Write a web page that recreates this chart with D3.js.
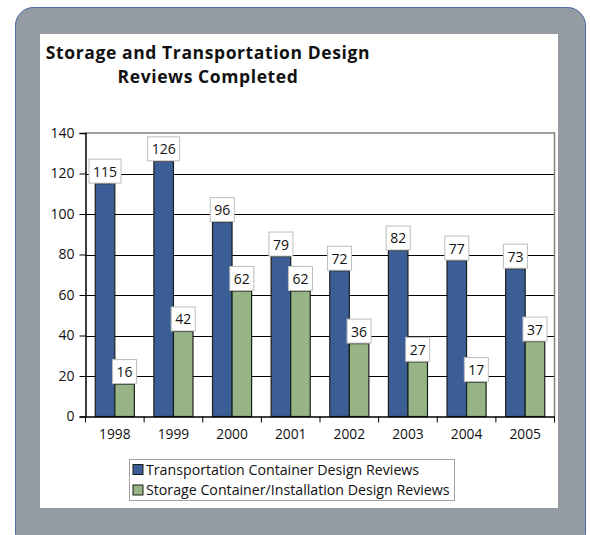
<!DOCTYPE html>
<html>
<head>
<meta charset="utf-8">
<script src="https://cdn.jsdelivr.net/npm/d3@7"></script>
<style>
  body { margin: 0; background: #fff; }
  text { font-family: "Open Sans", "Noto Sans", sans-serif; fill: #111; }
</style>
</head>
<body>
<div id="chart"></div>
<script>
// data
const years = ['1998', '1999', '2000', '2001', '2002', '2003', '2004', '2005'];
const transportation = [115, 126, 96, 79, 72, 82, 77, 73];
const storage = [16, 42, 62, 62, 36, 27, 17, 37];
const series_names = ['Transportation Container Design Reviews', 'Storage Container/Installation Design Reviews'];
const series_colors = ['#3b5e96', '#97b487'];
const y_ticks = [0, 20, 40, 60, 80, 100, 120, 140];
const title_lines = ['Storage and Transportation Design', 'Reviews Completed'];

const width = 590, height = 535;
const plot = {left: 85.5, right: 554.5, top: 133, bottom: 416.5};

const svg = d3.select('#chart')
  .append('svg')
    .attr('width', width)
    .attr('height', height);

// outer panel + white card
svg.append('rect')
  .attr('x', 15.5).attr('y', 7.5)
  .attr('width', 570).attr('height', 545)
  .attr('rx', 18).attr('ry', 18)
  .attr('fill', '#959ba2')
  .attr('stroke', '#4a6ca3')
  .attr('stroke-width', 1);

svg.append('rect')
  .attr('x', 40).attr('y', 34)
  .attr('width', 518).attr('height', 474)
  .attr('fill', '#fff');

// title, two separate lines
svg.selectAll('text.title')
  .data(title_lines)
  .join('text')
    .attr('class', 'title')
    .attr('text-anchor', 'middle')
    .attr('x', 208)
    .attr('y', (d, i) => 59 + i * 23.5)
    .style('font-weight', 'bold')
    .style('font-size', '17.5px')
    .style('letter-spacing', '0.6px')
    .text(d => d);

const y = d3.scaleLinear()
  .domain([0, 140])
  .range([plot.bottom, plot.top]);

const x0 = d3.scaleBand()
  .domain(years)
  .range([plot.left, plot.right])
  .padding(0);

const x1 = d3.scaleBand()
  .domain([0, 1])
  .range([x0.bandwidth() / 6, x0.bandwidth() * 5 / 6])
  .padding(0);

const g = svg.append('g');

// gridlines
g.selectAll('line.grid')
  .data(y_ticks.filter(d => d > 0 && d < 140))
  .join('line')
    .attr('class', 'grid')
    .attr('x1', plot.left).attr('x2', plot.right)
    .attr('y1', d => Math.round(y(d)) + 0.5).attr('y2', d => Math.round(y(d)) + 0.5)
    .attr('stroke', '#000')
    .attr('stroke-width', 1);

// plot frame (top + right in gray)
g.append('path')
  .attr('d', `M${plot.left},${plot.top}H${plot.right}V${plot.bottom}`)
  .attr('fill', 'none')
  .attr('stroke', '#808080')
  .attr('stroke-width', 1.5);

// bars
const rows = years.map((yr, i) => ({year: yr, values: [transportation[i], storage[i]]}));

const groups = g.selectAll('g.year')
  .data(rows)
  .join('g')
    .attr('class', 'year')
    .attr('transform', d => `translate(${x0(d.year)},0)`);

groups.selectAll('rect')
  .data(d => d.values.map((v, k) => ({k, v})))
  .join('rect')
    .attr('x', d => x1(d.k))
    .attr('y', d => y(d.v))
    .attr('width', x1.bandwidth())
    .attr('height', d => y(0) - y(d.v))
    .attr('fill', d => series_colors[d.k])
    .attr('stroke', '#1b1f1a')
    .attr('stroke-width', 1.2);

// value labels
const labels = groups.selectAll('g.lab')
  .data(d => d.values.map((v, k) => ({k, v})))
  .join('g')
    .attr('class', 'lab')
    .attr('transform', d => `translate(${x1(d.k) + x1.bandwidth() / 2},${y(d.v)})`);

labels.append('text')
  .attr('text-anchor', 'middle')
  .attr('y', -7)
  .style('font-size', '14px')
  .text(d => d.v);

labels.each(function() {
  const t = d3.select(this).select('text');
  const w = t.node().getComputedTextLength();
  d3.select(this).insert('rect', 'text')
    .attr('x', -w / 2 - 4)
    .attr('y', -24.5)
    .attr('width', w + 8)
    .attr('height', 24)
    .attr('fill', '#fff')
    .attr('stroke', '#bdbdbd')
    .attr('stroke-width', 1);
});

// axes
const yAxis = g.append('g')
  .attr('transform', `translate(${plot.left},0)`)
  .call(d3.axisLeft(y).tickValues(y_ticks).tickSize(6).tickPadding(5));
yAxis.select('.domain').attr('stroke', '#000').attr('stroke-width', 1.5);
yAxis.selectAll('.tick line').attr('stroke', '#000');
yAxis.selectAll('.tick text').style('font-size', '14px').attr('fill', '#111');

const xAxis = g.append('g')
  .attr('transform', `translate(0,${plot.bottom})`)
  .call(d3.axisBottom(x0).tickSize(0).tickPadding(13));
xAxis.select('.domain').attr('stroke', '#000').attr('stroke-width', 1.5);
xAxis.selectAll('.tick text').style('font-size', '13.8px').attr('fill', '#111');

// category boundary ticks
g.selectAll('line.xtick')
  .data(years.concat(['end']))
  .join('line')
    .attr('class', 'xtick')
    .attr('x1', (d, i) => i < years.length ? x0(d) : plot.right)
    .attr('x2', (d, i) => i < years.length ? x0(d) : plot.right)
    .attr('y1', plot.bottom)
    .attr('y2', plot.bottom + 6)
    .attr('stroke', '#000');

// legend
const legend = svg.append('g').attr('transform', 'translate(129.5,459.5)');
legend.append('rect')
  .attr('width', 325).attr('height', 41)
  .attr('fill', '#fff')
  .attr('stroke', '#a0a0a0');

const items = legend.selectAll('g.item')
  .data(series_names)
  .join('g')
    .attr('class', 'item')
    .attr('transform', (d, i) => `translate(3.5,${10 + i * 20.5})`);

items.append('rect')
  .attr('x', 0).attr('y', -5)
  .attr('width', 10).attr('height', 10)
  .attr('fill', (d, i) => series_colors[i])
  .attr('stroke', '#1b1f1a');

items.append('text')
  .attr('x', 13)
  .attr('y', 5)
  .style('font-size', '14.2px')
  .text(d => d);
</script>
</body>
</html>
